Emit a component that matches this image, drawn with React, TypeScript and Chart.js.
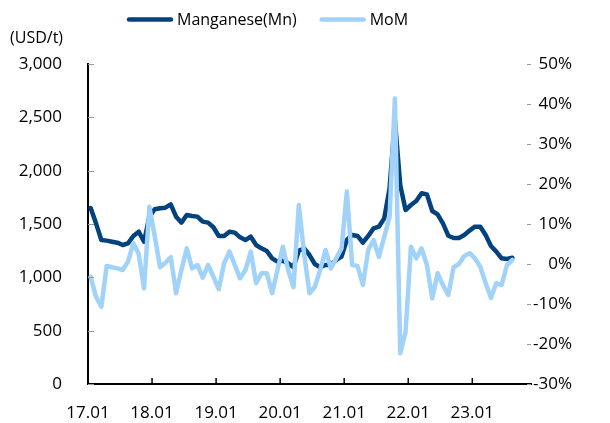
import React, { useEffect, useRef } from 'react';
import { Chart, registerables } from 'chart.js';

Chart.register(...registerables);

const xTickLabels: string[] = ['17.01', '18.01', '19.01', '20.01', '21.01', '22.01', '23.01'];

// Monthly manganese price (USD/t), 17.01 – 23.08
const manganese: number[] = [
  1650, 1506, 1350, 1344, 1334, 1325, 1303, 1319, 1388, 1428,
  1334, 1569, 1638, 1647, 1653, 1684, 1569, 1513, 1584, 1575,
  1569, 1522, 1513, 1469, 1388, 1388, 1428, 1419, 1375, 1350,
  1381, 1303, 1272, 1247, 1178, 1147, 1156, 1131, 1094, 1250,
  1270, 1209, 1125, 1094, 1116, 1116, 1163, 1194, 1350, 1397,
  1388, 1325, 1388, 1459, 1475, 1553, 1834, 2475, 1866, 1631,
  1678, 1716, 1788, 1778, 1622, 1591, 1506, 1390, 1369, 1369,
  1397, 1438, 1475, 1475, 1397, 1294, 1241, 1178, 1172, 1184,
];

// Month-over-month change (%)
const mom: number[] = [
  -3.2, -8.2, -10.7, -0.5, -0.8, -1.1, -1.5, 0.6, 5.2, 2.5,
  -6.1, 14.3, 7.0, -0.8, 0.3, 1.7, -7.3, -1.5, 3.9, -1.1,
  -0.25, -3.4, -0.25, -3.2, -6.3, 0.2, 3.1, -0.25, -3.6, -1.5,
  3.1, -4.8, -2.3, -2.3, -7.3, -1.5, 4.3, -1.5, -5.8, 14.75,
  2.5, -7.3, -5.7, -1.5, 3.5, -1.1, 1.4, 3.9, 18.1, -0.25,
  -0.5, -5.25, 3.5, 6.0, 1.8, 6.8, 11.8, 41.4, -22.3, -16.9,
  4.3, 1.4, 3.9, -0.25, -8.6, -2.3, -5.25, -7.75, -0.8, 0.0,
  2.0, 2.7, 1.4, -0.7, -4.8, -8.5, -4.8, -5.25, -0.25, 1.0,
];

const seriesNames: string[] = ['Manganese(Mn)', 'MoM'];
const unitLabel = '(USD/t)';

const DARK = '#04427E';
const LIGHT = '#A0D2FA';
const FONT = '"Open Sans", "Noto Sans", sans-serif';
const TICK_SIZE = 17;
const LEGEND_SIZE = 16;
const MONTH_SPAN = 83;

const overlayPlugin = {
  id: 'overlay',
  afterDraw(chart: any) {
    const ctx: CanvasRenderingContext2D = chart.ctx;
    const area = chart.chartArea;
    const y = chart.scales.y;
    const y1 = chart.scales.y1;
    const x = chart.scales.x;
    ctx.save();
    // left ticks (inside)
    ctx.strokeStyle = '#9a9a9a';
    ctx.lineWidth = 1;
    y.ticks.forEach((t: any) => {
      const py = Math.round(y.getPixelForValue(t.value)) + 0.5;
      ctx.beginPath();
      ctx.moveTo(area.left, py);
      ctx.lineTo(area.left + 6, py);
      ctx.stroke();
    });
    // right ticks
    y1.ticks.forEach((t: any) => {
      const py = Math.round(y1.getPixelForValue(t.value)) + 0.5;
      ctx.beginPath();
      ctx.moveTo(area.right - 4, py);
      ctx.lineTo(area.right, py);
      ctx.stroke();
    });
    // x ticks
    ctx.strokeStyle = '#000';
    ctx.lineWidth = 1.5;
    x.ticks.forEach((t: any) => {
      const px = x.getPixelForValue(t.value);
      ctx.beginPath();
      ctx.moveTo(px, area.bottom);
      ctx.lineTo(px, area.bottom - 6);
      ctx.stroke();
    });
    // unit label
    ctx.fillStyle = '#000';
    ctx.font = `${LEGEND_SIZE}px ${FONT}`;
    ctx.textBaseline = 'middle';
    ctx.textAlign = 'left';
    ctx.fillText(unitLabel, 10, 38);
    // legend
    const colors = [DARK, LIGHT];
    const swatch = 46;
    const gap = 4;
    const itemGap = 23;
    let lx = 127;
    const ly = 19.5;
    seriesNames.forEach((name, i) => {
      const w = ctx.measureText(name).width;
      ctx.strokeStyle = colors[i];
      ctx.lineWidth = 4.5;
      ctx.lineCap = 'round';
      ctx.beginPath();
      ctx.moveTo(lx + 2, ly);
      ctx.lineTo(lx + swatch - 2, ly);
      ctx.stroke();
      ctx.fillStyle = '#000';
      ctx.fillText(name, lx + swatch + gap, ly + 1);
      lx += swatch + gap + w + itemGap;
    });
    ctx.restore();
  },
};

export default function App() {
  const ref = useRef<HTMLCanvasElement | null>(null);

  useEffect(() => {
    if (!ref.current) return;
    const chart = new Chart(ref.current, {
      type: 'line',
      data: {
        datasets: [
          {
            label: seriesNames[0],
            data: manganese.map((v, i) => ({ x: i + 0.5, y: v })),
            borderColor: DARK,
            backgroundColor: DARK,
            borderWidth: 4.5,
            pointRadius: 0,
            tension: 0,
            yAxisID: 'y',
            order: 1,
            borderJoinStyle: 'round',
            borderCapStyle: 'round',
          },
          {
            label: seriesNames[1],
            data: mom.map((v, i) => ({ x: i + 0.5, y: v })),
            borderColor: LIGHT,
            backgroundColor: LIGHT,
            borderWidth: 4.5,
            pointRadius: 0,
            tension: 0,
            yAxisID: 'y1',
            order: 0,
            borderJoinStyle: 'round',
            borderCapStyle: 'round',
          },
        ],
      },
      options: {
        animation: false,
        responsive: false,
        devicePixelRatio: 1,
        layout: { padding: { top: 64, right: 38, left: 0, bottom: 0 } },
        plugins: { legend: { display: false }, tooltip: { enabled: false } },
        scales: {
          x: {
            type: 'linear',
            min: 0,
            max: MONTH_SPAN,
            grid: { display: false, drawTicks: false },
            border: { display: true, color: '#000', width: 2 },
            ticks: {
              stepSize: 12,
              includeBounds: false,
              autoSkip: false,
              maxRotation: 0,
              padding: 19,
              color: '#000',
              font: { family: FONT, size: TICK_SIZE },
              callback: (v: any) => {
                const idx = Number(v) / 12;
                return Number.isInteger(idx) && xTickLabels[idx] ? xTickLabels[idx] : '';
              },
            },
            afterFit: (s: any) => {
              s.height = 39;
            },
          },
          y: {
            position: 'left',
            min: 0,
            max: 3000,
            grid: { display: false, drawTicks: false },
            border: { display: true, color: '#000', width: 2 },
            ticks: {
              stepSize: 500,
              padding: 26,
              color: '#000',
              font: { family: FONT, size: TICK_SIZE },
              callback: (v: any) => Number(v).toLocaleString('en-US'),
            },
            afterFit: (s: any) => {
              s.width = 88;
            },
          },
          y1: {
            position: 'right',
            min: -30,
            max: 50,
            grid: { display: false, drawTicks: false },
            border: { display: false },
            ticks: {
              stepSize: 10,
              padding: 0,
              crossAlign: 'far',
              color: '#000',
              font: { family: FONT, size: TICK_SIZE },
              callback: (v: any) => `${v}%`,
            },
            afterFit: (s: any) => {
              s.width = 41;
            },
          },
        },
      },
      plugins: [overlayPlugin],
    } as any);
    return () => chart.destroy();
  }, []);

  return (
    <div style={{ position: 'fixed', left: 0, top: 0, width: 610, height: 423, background: '#fff' }}>
      <canvas ref={ref} width={610} height={423} />
    </div>
  );
}
